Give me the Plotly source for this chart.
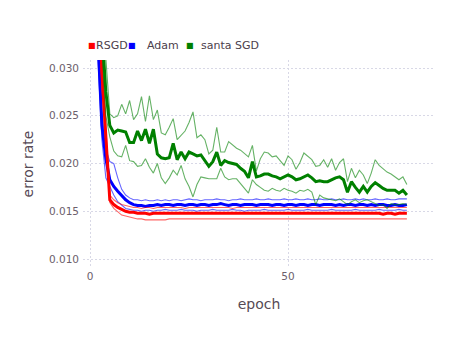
import plotly.graph_objects as go

# error rate per epoch, mean and upper/lower band for each optimiser
epochs = list(range(1, 81))

rsgd_mean = [
    0.0650, 0.0400, 0.0295, 0.0230, 0.0162, 0.0157, 0.0154, 0.0152, 0.0150, 0.0149,
    0.0149, 0.0148, 0.0148, 0.0148, 0.0147, 0.0148, 0.0148, 0.0148, 0.0148, 0.0148,
    0.0148, 0.0148, 0.0148, 0.0148, 0.0148, 0.0148, 0.0148, 0.0148, 0.0148, 0.0148,
    0.0148, 0.0148, 0.0148, 0.0148, 0.0148, 0.0148, 0.0148, 0.0148, 0.0148, 0.0148,
    0.0148, 0.0148, 0.0148, 0.0148, 0.0148, 0.0148, 0.0148, 0.0148, 0.0148, 0.0148,
    0.0148, 0.0148, 0.0148, 0.0148, 0.0148, 0.0148, 0.0148, 0.0148, 0.0148, 0.0148,
    0.0148, 0.0148, 0.0148, 0.0148, 0.0148, 0.0148, 0.0148, 0.0148, 0.0148, 0.0148,
    0.0148, 0.0148, 0.0148, 0.0147, 0.0148, 0.0148, 0.0147, 0.0148, 0.0148, 0.0148,
]
rsgd_upper = [
    0.0680, 0.0420, 0.0310, 0.0240, 0.0167, 0.0162, 0.0159, 0.0157, 0.0156, 0.0155,
    0.0154, 0.0154, 0.0153, 0.0154, 0.0154, 0.0153, 0.0154, 0.0154, 0.0154, 0.0154,
    0.0154, 0.0154, 0.0154, 0.0153, 0.0154, 0.0154, 0.0154, 0.0154, 0.0154, 0.0154,
    0.0154, 0.0154, 0.0154, 0.0154, 0.0154, 0.0153, 0.0154, 0.0154, 0.0154, 0.0154,
    0.0154, 0.0154, 0.0154, 0.0154, 0.0154, 0.0154, 0.0154, 0.0154, 0.0154, 0.0154,
    0.0154, 0.0154, 0.0154, 0.0154, 0.0154, 0.0154, 0.0154, 0.0154, 0.0154, 0.0154,
    0.0154, 0.0154, 0.0154, 0.0154, 0.0154, 0.0154, 0.0154, 0.0154, 0.0154, 0.0154,
    0.0154, 0.0154, 0.0154, 0.0154, 0.0154, 0.0154, 0.0154, 0.0154, 0.0154, 0.0154,
]
rsgd_lower = [
    0.0620, 0.0380, 0.0280, 0.0222, 0.0159, 0.0153, 0.0149, 0.0146, 0.0145, 0.0144,
    0.0143, 0.0142, 0.0142, 0.0141, 0.0141, 0.0141, 0.0141, 0.0141, 0.0141, 0.0142,
    0.0142, 0.0142, 0.0142, 0.0142, 0.0142, 0.0142, 0.0142, 0.0142, 0.0142, 0.0142,
    0.0142, 0.0142, 0.0142, 0.0142, 0.0142, 0.0142, 0.0142, 0.0142, 0.0142, 0.0142,
    0.0142, 0.0142, 0.0142, 0.0142, 0.0142, 0.0142, 0.0142, 0.0142, 0.0142, 0.0142,
    0.0142, 0.0142, 0.0142, 0.0142, 0.0142, 0.0142, 0.0142, 0.0142, 0.0142, 0.0142,
    0.0142, 0.0142, 0.0142, 0.0142, 0.0142, 0.0142, 0.0142, 0.0142, 0.0142, 0.0142,
    0.0142, 0.0142, 0.0142, 0.0142, 0.0142, 0.0142, 0.0142, 0.0142, 0.0142, 0.0142,
]

adam_mean = [
    0.0600, 0.0330, 0.0240, 0.0205, 0.0183, 0.0176, 0.0171, 0.0166, 0.0162, 0.0159,
    0.0157, 0.0156, 0.0156, 0.0155, 0.0156, 0.0156, 0.0157, 0.0156, 0.0157, 0.0157,
    0.0156, 0.0157, 0.0157, 0.0156, 0.0157, 0.0157, 0.0156, 0.0157, 0.0157, 0.0156,
    0.0157, 0.0157, 0.0158, 0.0157, 0.0156, 0.0157, 0.0157, 0.0156, 0.0157, 0.0157,
    0.0157, 0.0156, 0.0157, 0.0157, 0.0157, 0.0156, 0.0157, 0.0157, 0.0156, 0.0157,
    0.0157, 0.0156, 0.0157, 0.0157, 0.0156, 0.0157, 0.0157, 0.0156, 0.0157, 0.0157,
    0.0157, 0.0156, 0.0157, 0.0156, 0.0157, 0.0157, 0.0156, 0.0157, 0.0157, 0.0156,
    0.0157, 0.0156, 0.0157, 0.0157, 0.0156, 0.0156, 0.0157, 0.0156, 0.0156, 0.0157,
]
adam_upper = [
    0.0630, 0.0360, 0.0255, 0.0215, 0.0202, 0.0200, 0.0185, 0.0173, 0.0167, 0.0164,
    0.0162, 0.0162, 0.0161, 0.0162, 0.0161, 0.0161, 0.0162, 0.0161, 0.0162, 0.0161,
    0.0162, 0.0162, 0.0161, 0.0162, 0.0163, 0.0162, 0.0162, 0.0161, 0.0162, 0.0162,
    0.0162, 0.0163, 0.0162, 0.0162, 0.0161, 0.0162, 0.0162, 0.0163, 0.0162, 0.0162,
    0.0162, 0.0163, 0.0162, 0.0162, 0.0163, 0.0162, 0.0162, 0.0162, 0.0163, 0.0162,
    0.0162, 0.0163, 0.0162, 0.0162, 0.0163, 0.0162, 0.0162, 0.0163, 0.0162, 0.0162,
    0.0163, 0.0162, 0.0162, 0.0163, 0.0162, 0.0162, 0.0163, 0.0162, 0.0163, 0.0162,
    0.0162, 0.0163, 0.0162, 0.0162, 0.0163, 0.0162, 0.0162, 0.0163, 0.0163, 0.0163,
]
adam_lower = [
    0.0570, 0.0310, 0.0225, 0.0185, 0.0176, 0.0167, 0.0160, 0.0156, 0.0153, 0.0152,
    0.0151, 0.0151, 0.0150, 0.0151, 0.0151, 0.0150, 0.0151, 0.0151, 0.0152, 0.0151,
    0.0151, 0.0151, 0.0152, 0.0151, 0.0151, 0.0151, 0.0150, 0.0151, 0.0151, 0.0151,
    0.0152, 0.0151, 0.0151, 0.0151, 0.0151, 0.0152, 0.0151, 0.0151, 0.0150, 0.0151,
    0.0151, 0.0151, 0.0151, 0.0152, 0.0151, 0.0151, 0.0151, 0.0151, 0.0151, 0.0152,
    0.0151, 0.0151, 0.0151, 0.0151, 0.0152, 0.0151, 0.0151, 0.0151, 0.0151, 0.0151,
    0.0152, 0.0151, 0.0151, 0.0151, 0.0151, 0.0151, 0.0152, 0.0151, 0.0151, 0.0151,
    0.0151, 0.0151, 0.0152, 0.0151, 0.0151, 0.0151, 0.0151, 0.0152, 0.0151, 0.0151,
]

santa_mean = [
    0.0600, 0.0450, 0.0340, 0.0275, 0.0240, 0.0232, 0.0235, 0.0234, 0.0233, 0.0222,
    0.0222, 0.0234, 0.0224, 0.0236, 0.0221, 0.0236, 0.0210, 0.0206, 0.0205, 0.0206,
    0.0221, 0.0204, 0.0212, 0.0205, 0.0212, 0.0210, 0.0208, 0.0209, 0.0203, 0.0197,
    0.0202, 0.0212, 0.0198, 0.0203, 0.0201, 0.0200, 0.0199, 0.0195, 0.0192, 0.0185,
    0.0202, 0.0186, 0.0187, 0.0189, 0.0189, 0.0187, 0.0186, 0.0184, 0.0186, 0.0188,
    0.0186, 0.0183, 0.0184, 0.0186, 0.0188, 0.0185, 0.0181, 0.0182, 0.0181, 0.0181,
    0.0183, 0.0185, 0.0186, 0.0183, 0.0170, 0.0181, 0.0175, 0.0170, 0.0176, 0.0170,
    0.0176, 0.0180, 0.0177, 0.0174, 0.0172, 0.0172, 0.0172, 0.0169, 0.0172, 0.0167,
]
santa_upper = [
    0.0650, 0.0500, 0.0400, 0.0310, 0.0252, 0.0248, 0.0250, 0.0262, 0.0252, 0.0266,
    0.0246, 0.0252, 0.0270, 0.0244, 0.0271, 0.0246, 0.0256, 0.0232, 0.0230, 0.0238,
    0.0247, 0.0225, 0.0229, 0.0234, 0.0243, 0.0254, 0.0227, 0.0230, 0.0225, 0.0210,
    0.0214, 0.0238, 0.0212, 0.0212, 0.0223, 0.0219, 0.0216, 0.0214, 0.0210, 0.0207,
    0.0219, 0.0192, 0.0205, 0.0212, 0.0211, 0.0207, 0.0208, 0.0203, 0.0198, 0.0208,
    0.0204, 0.0194, 0.0201, 0.0211, 0.0207, 0.0204, 0.0197, 0.0198, 0.0204, 0.0196,
    0.0205, 0.0193, 0.0201, 0.0205, 0.0181, 0.0195, 0.0185, 0.0193, 0.0188, 0.0179,
    0.0190, 0.0204, 0.0198, 0.0194, 0.0191, 0.0189, 0.0186, 0.0183, 0.0186, 0.0178,
]
santa_lower = [
    0.0550, 0.0400, 0.0320, 0.0250, 0.0228, 0.0213, 0.0208, 0.0207, 0.0219, 0.0203,
    0.0202, 0.0197, 0.0198, 0.0205, 0.0196, 0.0190, 0.0200, 0.0185, 0.0179, 0.0185,
    0.0193, 0.0188, 0.0198, 0.0184, 0.0176, 0.0165, 0.0178, 0.0186, 0.0185, 0.0184,
    0.0184, 0.0184, 0.0195, 0.0186, 0.0183, 0.0184, 0.0184, 0.0179, 0.0175, 0.0169,
    0.0183, 0.0178, 0.0175, 0.0172, 0.0171, 0.0174, 0.0172, 0.0171, 0.0174, 0.0172,
    0.0171, 0.0169, 0.0172, 0.0171, 0.0173, 0.0170, 0.0157, 0.0167, 0.0164, 0.0163,
    0.0162, 0.0161, 0.0163, 0.0160, 0.0157, 0.0160, 0.0162, 0.0159, 0.0161, 0.0162,
    0.0160, 0.0158, 0.0156, 0.0157, 0.0153, 0.0158, 0.0157, 0.0157, 0.0158, 0.0157,
]

fig = go.Figure()

series = [
    ("Adam", "#0000ff", adam_mean, adam_upper, adam_lower),
    ("RSGD", "#ff0000", rsgd_mean, rsgd_upper, rsgd_lower),
    ("santa SGD", "#008000", santa_mean, santa_upper, santa_lower),
]
for name, color, mean, upper, lower in series:
    for band in (upper, lower):
        fig.add_trace(go.Scatter(x=epochs, y=band, mode="lines", showlegend=False,
                                 line=dict(color=color, width=1.1), opacity=0.6))
    fig.add_trace(go.Scatter(x=epochs, y=mean, mode="lines", name=name, showlegend=False,
                             line=dict(color=color, width=3)))

# gadfly-like key across the top
grid = "#d8d8e6"
key = [("#ff0000", 0.012, "RSGD", 0.033),
       ("#0000ff", 0.124, "Adam", 0.180),
       ("#008000", 0.290, "santa SGD", 0.332)]
for color, sx, label, lx in key:
    fig.add_annotation(x=sx, y=1.072, xref="paper", yref="paper", text="■",
                       showarrow=False, xanchor="left", yanchor="middle", borderpad=0,
                       font=dict(size=8, color=color))
    fig.add_annotation(x=lx, y=1.072, xref="paper", yref="paper", text=label,
                       showarrow=False, xanchor="left", yanchor="middle", borderpad=0,
                       font=dict(size=11, color="#4c404b"))

# the page body adds an 8px offset, so the figure is 8px smaller with trimmed margins
fig.update_layout(
    width=446, height=332,
    margin=dict(l=75, r=19, t=52, b=72),
    paper_bgcolor="white", plot_bgcolor="white",
    font=dict(family="DejaVu Sans", color="#6c606b"),
    xaxis=dict(range=[-1.77, 87.1], tickvals=[0, 50], showgrid=True, gridcolor=grid,
               griddash="2px,2px", gridwidth=1, zeroline=False, showline=False,
               automargin=False,
               tickfont=dict(size=10.5, color="#6c606b"),
               title=dict(text="epoch", font=dict(size=14, color="#564a55"), standoff=18)),
    yaxis=dict(range=[0.00906, 0.03084], tickvals=[0.010, 0.015, 0.020, 0.025, 0.030],
               tickformat=".3f", showgrid=True, gridcolor=grid, griddash="2px,2px",
               gridwidth=1, zeroline=False, showline=False, automargin=False,
               ticklabelstandoff=3,
               tickfont=dict(size=10.5, color="#6c606b"),
               title=dict(text="error rate", font=dict(size=14, color="#564a55"), standoff=12)),
)

fig.write_html("out.html")
